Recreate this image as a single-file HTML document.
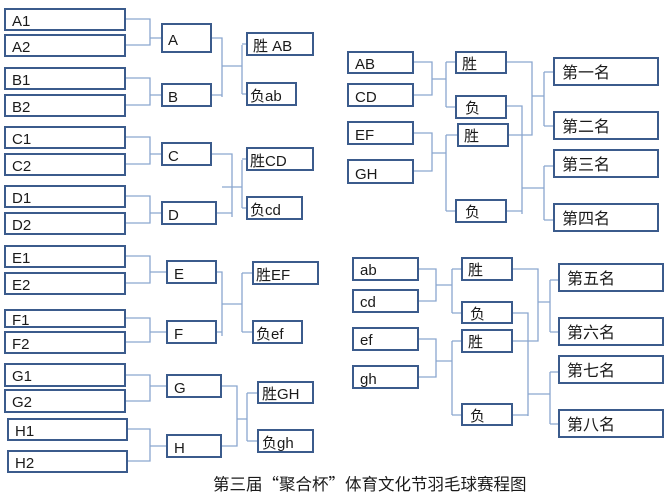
<!DOCTYPE html>
<html><head><meta charset="utf-8"><style>
html,body{margin:0;padding:0;background:#fff;}
svg text{font-family:"Liberation Sans","Noto Sans CJK SC",sans-serif;font-size:15px;fill:#1a1a1a;}
</style></head><body>
<svg width="668" height="496" viewBox="0 0 668 496" xmlns="http://www.w3.org/2000/svg">
<g fill="none" stroke="#8aa6cf" stroke-width="1.3">
<path d="M125 19H150V45H125M150 38H162"/>
<path d="M125 78H150V105H125M150 95H162"/>
<path d="M125 137H150V164H125M150 154H162"/>
<path d="M125 196H150V223H125M150 213H162"/>
<path d="M125 256H150V283H125M150 272H167"/>
<path d="M125 318H150V342H125M150 332H167"/>
<path d="M125 375H150V401H125M150 386H167"/>
<path d="M127 429H150V461H127M150 446H167"/>
<path d="M211 38H222V97M211 95H222M222 66H242M242 45V94M242 44H247M242 94H247"/>
<path d="M211 154H232V217M216 213H232M222 187H242M242 160V208M242 159H247M242 208H247"/>
<path d="M202 272H222V336M202 332H222M222 304H242M242 273V332M242 273H253M242 332H253"/>
<path d="M221 386H237V446H221M237 419H247M247 393V441M247 393H258M247 441H258"/>
<path d="M413 62H432V95H413M432 79H446M446 62V107M446 62H456M446 107H456"/>
<path d="M413 133H432V171H413M432 153H446M446 135V211M446 135H458M446 211H456"/>
<path d="M506 62H532V135H508M532 96H544M544 72V126M544 72H554M544 126H554"/>
<path d="M500 106H522V214M506 211H522M522 188H544M544 166V220M544 166H554M544 220H554"/>
<path d="M418 269H436V301H418M436 285H452M452 269V313M452 269H462M452 313H462"/>
<path d="M418 339H436V377H418M436 361H452M452 341V415M452 341H462M452 415H462"/>
<path d="M512 269H538V341H512M538 302H550M550 280V332M550 280H559M550 332H559"/>
<path d="M506 313H528V416M506 415H528M528 394H550M550 372V424M550 372H559M550 424H559"/>
</g>
<g fill="#fff" stroke="#3b5b8c" stroke-width="2">
<rect x="5" y="9" width="120" height="21"/><rect x="5" y="35" width="120" height="21"/>
<rect x="5" y="68" width="120" height="21"/><rect x="5" y="95" width="120" height="21"/>
<rect x="5" y="127" width="120" height="21"/><rect x="5" y="154" width="120" height="21"/>
<rect x="5" y="186" width="120" height="21"/><rect x="5" y="213" width="120" height="21"/>
<rect x="5" y="246" width="120" height="21"/><rect x="5" y="273" width="120" height="21"/>
<rect x="5" y="310" width="120" height="17"/><rect x="5" y="332" width="120" height="21"/>
<rect x="5" y="364" width="120" height="22"/><rect x="5" y="390" width="120" height="22"/>
<rect x="8" y="419" width="119" height="21"/><rect x="8" y="451" width="119" height="21"/>
<rect x="162" y="24" width="49" height="28"/><rect x="162" y="84" width="49" height="22"/>
<rect x="162" y="143" width="49" height="22"/><rect x="162" y="202" width="54" height="22"/>
<rect x="167" y="261" width="49" height="22"/><rect x="167" y="321" width="49" height="22"/>
<rect x="167" y="375" width="54" height="22"/><rect x="167" y="435" width="54" height="22"/>
<rect x="247" y="33" width="66" height="22"/><rect x="247" y="83" width="49" height="22"/>
<rect x="247" y="148" width="66" height="22"/><rect x="247" y="197" width="55" height="22"/>
<rect x="253" y="262" width="65" height="22"/><rect x="253" y="321" width="49" height="22"/>
<rect x="258" y="382" width="55" height="21"/><rect x="258" y="430" width="55" height="22"/>
<rect x="348" y="52" width="65" height="21"/><rect x="348" y="84" width="65" height="22"/>
<rect x="348" y="122" width="65" height="22"/><rect x="348" y="160" width="65" height="23"/>
<rect x="456" y="52" width="50" height="21"/><rect x="456" y="96" width="50" height="22"/>
<rect x="458" y="124" width="50" height="22"/><rect x="456" y="200" width="50" height="22"/>
<rect x="554" y="58" width="104" height="27"/><rect x="554" y="112" width="104" height="27"/>
<rect x="554" y="150" width="104" height="27"/><rect x="554" y="204" width="104" height="27"/>
<rect x="353" y="258" width="65" height="22"/><rect x="353" y="290" width="65" height="22"/>
<rect x="353" y="328" width="65" height="22"/><rect x="353" y="366" width="65" height="22"/>
<rect x="462" y="258" width="50" height="22"/><rect x="462" y="302" width="50" height="21"/>
<rect x="462" y="330" width="50" height="22"/><rect x="462" y="404" width="50" height="21"/>
<rect x="559" y="264" width="104" height="27"/><rect x="559" y="318" width="104" height="27"/>
<rect x="559" y="356" width="104" height="27"/><rect x="559" y="410" width="104" height="27"/>
</g>
<g>
<text x="12" y="26">A1</text><text x="12" y="52">A2</text>
<text x="12" y="85">B1</text><text x="12" y="112">B2</text>
<text x="12" y="144">C1</text><text x="12" y="171">C2</text>
<text x="12" y="203">D1</text><text x="12" y="230">D2</text>
<text x="12" y="263">E1</text><text x="12" y="290">E2</text>
<text x="12" y="325">F1</text><text x="12" y="349">F2</text>
<text x="12" y="381">G1</text><text x="12" y="407">G2</text>
<text x="15" y="436">H1</text><text x="15" y="468">H2</text>
<text x="168" y="45">A</text><text x="168" y="102">B</text>
<text x="168" y="161">C</text><text x="168" y="220">D</text>
<text x="174" y="279">E</text><text x="174" y="339">F</text>
<text x="174" y="393">G</text><text x="174" y="453">H</text>
<text x="253" y="51">胜 AB</text><text x="250" y="101">负ab</text>
<text x="250" y="166">胜CD</text><text x="250" y="215">负cd</text>
<text x="256" y="280">胜EF</text><text x="256" y="339">负ef</text>
<text x="262" y="399">胜GH</text><text x="262" y="448">负gh</text>
<text x="355" y="69">AB</text><text x="355" y="102">CD</text>
<text x="355" y="140">EF</text><text x="355" y="179">GH</text>
<text x="462" y="69">胜</text><text x="465" y="113">负</text>
<text x="464" y="141">胜</text><text x="465" y="217">负</text>
<text x="562" y="78" style="font-size:16px">第一名</text><text x="562" y="132" style="font-size:16px">第二名</text>
<text x="562" y="170" style="font-size:16px">第三名</text><text x="562" y="224" style="font-size:16px">第四名</text>
<text x="360" y="275">ab</text><text x="360" y="307">cd</text>
<text x="360" y="345">ef</text><text x="360" y="384">gh</text>
<text x="468" y="275">胜</text><text x="470" y="319">负</text>
<text x="468" y="347">胜</text><text x="470" y="421">负</text>
<text x="567" y="284" style="font-size:16px">第五名</text><text x="567" y="338" style="font-size:16px">第六名</text>
<text x="567" y="376" style="font-size:16px">第七名</text><text x="567" y="430" style="font-size:16px">第八名</text>
<text x="213" y="490" style="font-size:16.5px;font-family:'Noto Sans CJK SC',sans-serif">第三届“聚合杯”体育文化节羽毛球赛程图</text>
</g>
</svg>
</body></html>
